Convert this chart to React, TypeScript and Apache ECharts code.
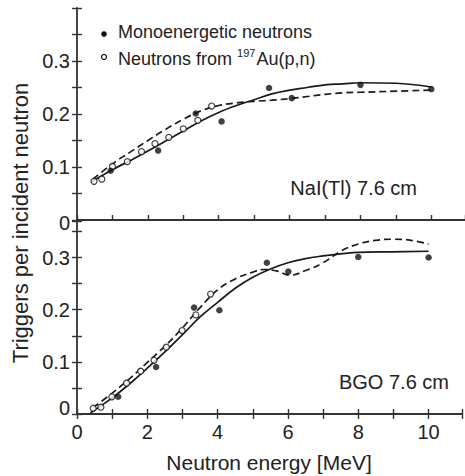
import React, { useEffect, useRef } from "react";
import * as echarts from "echarts";

// ---- Data ----
// Top panel: NaI(Tl) 7.6 cm
const naiMono: [number, number][] = [
  [0.95, 0.093], [2.29, 0.131], [3.35, 0.201], [4.08, 0.186],
  [5.42, 0.249], [6.06, 0.230], [8.0, 0.255], [10.0, 0.247],
];
const naiAu: [number, number][] = [
  [0.48, 0.073], [0.70, 0.077], [1.0, 0.101], [1.42, 0.110], [1.82, 0.129],
  [2.20, 0.144], [2.59, 0.156], [3.0, 0.172], [3.41, 0.188], [3.80, 0.215],
];
const naiSolid: [number, number][] = [
  [0.4, 0.072], [1, 0.095], [1.5, 0.112], [2, 0.13], [2.5, 0.149], [3, 0.168],
  [3.5, 0.187], [4, 0.203], [4.5, 0.216], [5, 0.227], [5.5, 0.238], [6, 0.245],
  [6.5, 0.25], [7, 0.255], [7.5, 0.257], [8, 0.259], [9, 0.258], [10, 0.251],
];
const naiDashed: [number, number][] = [
  [0.45, 0.077], [1, 0.106], [1.5, 0.128], [2, 0.15], [2.5, 0.171], [3, 0.19],
  [3.5, 0.206], [4, 0.216], [4.5, 0.221], [5, 0.224], [5.5, 0.226], [6, 0.229],
  [6.5, 0.233], [7, 0.237], [7.5, 0.24], [8, 0.241], [9, 0.243], [10, 0.245],
];

// Bottom panel: BGO 7.6 cm
const bgoMono: [number, number][] = [
  [1.17, 0.033], [2.25, 0.09], [3.33, 0.204], [4.05, 0.199],
  [5.40, 0.29], [6.01, 0.273], [8.0, 0.301], [10.0, 0.30],
];
const bgoAu: [number, number][] = [
  [0.46, 0.011], [0.68, 0.013], [0.99, 0.033], [1.41, 0.059], [1.81, 0.082],
  [2.19, 0.103], [2.54, 0.128], [2.99, 0.16], [3.38, 0.19], [3.8, 0.23],
];
const bgoSolid: [number, number][] = [
  [0.38, 0.002], [1, 0.031], [1.5, 0.058], [2, 0.088], [2.5, 0.119], [3, 0.152],
  [3.5, 0.186], [4, 0.214], [4.5, 0.241], [5, 0.262], [5.5, 0.278], [6, 0.29],
  [6.5, 0.298], [7, 0.303], [7.5, 0.307], [8, 0.31], [9, 0.311], [10, 0.312],
];
const bgoDashed: [number, number][] = [
  [0.45, 0.012], [1, 0.04], [1.5, 0.068], [2, 0.099], [2.5, 0.13], [3, 0.165],
  [3.5, 0.204], [4, 0.238], [4.5, 0.259], [5, 0.272], [5.3, 0.277],
  [5.7, 0.274], [6.05, 0.266], [6.5, 0.275], [7, 0.29], [7.5, 0.312], [8, 0.326],
  [8.5, 0.333], [9, 0.335], [9.5, 0.333], [10, 0.326],
];

const xTitle = "Neutron energy [MeV]";
const yTitle = "Triggers per incident neutron";
const legendMono = "Monoenergetic neutrons";
const legendAuParts = ["Neutrons from ", "197", "Au(p,n)"];
const panelLabels = ["NaI(Tl) 7.6 cm", "BGO 7.6 cm"];

const FONT = '"Liberation Sans", Arial, Helvetica, sans-serif';
const INK = "#1a1a1a";
const AXIS = "#333333";

export default function App() {
  const ref = useRef<HTMLDivElement>(null);

  useEffect(() => {
    if (!ref.current) return;
    const chart = echarts.init(ref.current, undefined, { renderer: "svg" });

    const axLine = { show: true, lineStyle: { color: AXIS, width: 1.8 } };
    const tick = { show: true, inside: true, length: 5, lineStyle: { color: AXIS, width: 1.4 } };
    const XMAX = 10.95;

    const xBase = (grid: number) => ({
      gridIndex: grid, type: "value" as const, min: 0, max: XMAX, interval: 1,
      splitLine: { show: false },
    });

    const yFormatter = (bottom: boolean) => (v: number) => {
      const r = Math.round(v * 100);
      if (r % 10 !== 0 || r > 30) return "";
      if (r === 0) return bottom ? "{u|0}" : "{d|0}";
      return (r / 100).toFixed(1);
    };

    const yBase = (grid: number, max: number) => ({
      gridIndex: grid, type: "value" as const, min: 0, max, interval: 0.05,
      splitLine: { show: false },
    });

    const labelStyle = {
      fontSize: 20, color: "#222", fontFamily: FONT, margin: 7,
      rich: {
        d: { fontSize: 20, color: "#222", fontFamily: FONT, padding: [6, 0, 0, 0] },
        u: { fontSize: 20, color: "#222", fontFamily: FONT, padding: [0, 0, 12, 0] },
      },
    };

    const lineSeries = (data: [number, number][], g: number, dashed: boolean) => ({
      type: "line", xAxisIndex: g * 2, yAxisIndex: g * 2, data,
      showSymbol: false, symbol: "none", smooth: 0.4, z: 2,
      lineStyle: { color: INK, width: 1.7, type: dashed ? [7, 4] : "solid" },
    });
    const monoSeries = (data: [number, number][], g: number) => ({
      type: "scatter", xAxisIndex: g * 2, yAxisIndex: g * 2, data, z: 4,
      symbol: "circle", symbolSize: 6.5, itemStyle: { color: "#111" },
    });
    const auSeries = (data: [number, number][], g: number) => ({
      type: "scatter", xAxisIndex: g * 2, yAxisIndex: g * 2, data, z: 3,
      symbol: "circle", symbolSize: 6,
      itemStyle: { color: "#fff", borderColor: "#111", borderWidth: 1.2 },
    });

    chart.setOption({
      animation: false,
      textStyle: { fontFamily: FONT },
      grid: [
        { left: 77, top: 8, width: 388, height: 212 },
        { left: 77, top: 221, width: 388, height: 193 },
      ],
      xAxis: [
        { ...xBase(0), position: "bottom", axisLine: axLine, axisTick: tick, axisLabel: { show: false } },
        { ...xBase(0), position: "top", axisLine: axLine, axisTick: { show: false }, axisLabel: { show: false } },
        {
          ...xBase(1), position: "bottom", axisLine: axLine, axisTick: tick,
          axisLabel: {
            fontSize: 20, color: "#222", fontFamily: FONT, margin: 8,
            formatter: (v: number) => (Math.abs(v - Math.round(v)) < 1e-6 && Math.round(v) % 2 === 0 ? String(Math.round(v)) : ""),
          },
        },
        { ...xBase(1), position: "top", axisLine: axLine, axisTick: tick, axisLabel: { show: false } },
      ],
      yAxis: [
        { ...yBase(0, 0.4), position: "left", axisLine: axLine, axisTick: tick, axisLabel: { ...labelStyle, formatter: yFormatter(false) } },
        { ...yBase(0, 0.4), position: "right", axisLine: { show: false }, axisTick: tick, axisLabel: { show: false } },
        { ...yBase(1, 0.37), position: "left", axisLine: axLine, axisTick: tick, axisLabel: { ...labelStyle, formatter: yFormatter(true) } },
        { ...yBase(1, 0.37), position: "right", axisLine: { show: false }, axisTick: tick, axisLabel: { show: false } },
      ],
      series: [
        lineSeries(naiSolid, 0, false),
        lineSeries(naiDashed, 0, true),
        auSeries(naiAu, 0),
        monoSeries(naiMono, 0),
        lineSeries(bgoSolid, 1, false),
        lineSeries(bgoDashed, 1, true),
        auSeries(bgoAu, 1),
        monoSeries(bgoMono, 1),
      ],
      graphic: [
        { type: "circle", shape: { cx: 104, cy: 34, r: 2.8 }, style: { fill: "#111" } },
        {
          type: "text", x: 118, y: 32,
          style: { text: legendMono, fontSize: 18, fontFamily: FONT, fill: "#222", align: "left", verticalAlign: "middle" },
        },
        { type: "circle", shape: { cx: 104, cy: 57, r: 2.5 }, style: { fill: "#fff", stroke: "#111", lineWidth: 1.2 } },
        {
          type: "text", x: 118, y: 59,
          style: {
            text: `{n|${legendAuParts[0]}}{s|${legendAuParts[1]}}{n|${legendAuParts[2]}}`,
            fontSize: 18, fontFamily: FONT, fill: "#222", align: "left", verticalAlign: "middle",
            rich: {
              n: { fontSize: 18, fontFamily: FONT, fill: "#222" },
              s: { fontSize: 11, fontFamily: FONT, fill: "#222", padding: [0, 1, 12, 0] },
            },
          },
        },
        {
          type: "text", x: 417, y: 188,
          style: { text: panelLabels[0], fontSize: 20, fontFamily: FONT, fill: "#222", align: "right", verticalAlign: "middle" },
        },
        {
          type: "text", x: 449, y: 382,
          style: { text: panelLabels[1], fontSize: 20, fontFamily: FONT, fill: "#222", align: "right", verticalAlign: "middle" },
        },
        {
          type: "text", x: 269, y: 462,
          style: { text: xTitle, fontSize: 21, fontFamily: FONT, fill: "#222", align: "center", verticalAlign: "middle" },
        },
        {
          type: "text", x: 20, y: 223, rotation: Math.PI / 2,
          style: { text: yTitle, fontSize: 22, fontFamily: FONT, fill: "#222", align: "center", verticalAlign: "middle" },
        },
      ],
    });

    return () => chart.dispose();
  }, []);

  return (
    <div
      ref={ref}
      style={{ position: "fixed", left: 0, top: 0, width: 465, height: 476, background: "#fff" }}
    />
  );
}
